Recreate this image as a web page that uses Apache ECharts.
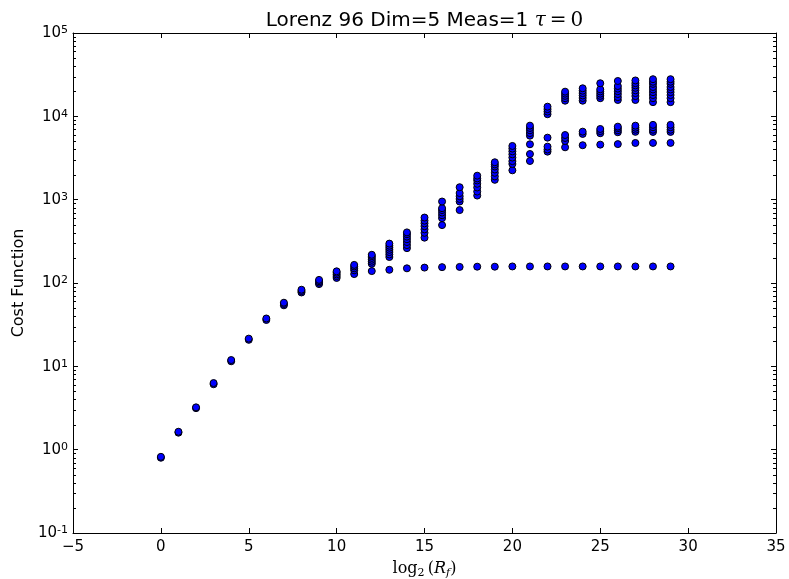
<!DOCTYPE html>
<html>
<head>
<meta charset="utf-8">
<script src="https://cdn.jsdelivr.net/npm/echarts@6/dist/echarts.min.js"></script>
<style>
  html, body { margin: 0; padding: 0; background: #ffffff; }
  #chart { width: 789px; height: 579px; }
</style>
</head>
<body>
<div id="chart"></div>
<script>
// log2 of the forcing ratio R_f, one column of runs per exponent
const rfExponents = [0, 1, 2, 3, 4, 5, 6, 7, 8, 9, 10, 11, 12, 13, 14,
                     15, 16, 17, 18, 19, 20, 21, 22, 23, 24, 25, 26, 27, 28, 29];

// cost function values reached at each exponent (same order as rfExponents)
const costColumns = [
  [0.80, 0.82],
  [1.60, 1.64],
  [3.15, 3.22],
  [6.1, 6.3],
  [11.5, 11.9],
  [20.8, 21.5],
  [36, 37.5],
  [54, 56, 58],
  [77, 80, 83],
  [97, 101, 105, 109],
  [115, 121, 127, 133, 138],
  [128, 142, 150, 158, 165],
  [139, 170, 180, 190, 200, 210, 218],
  [144, 205, 220, 235, 250, 265, 280, 297],
  [150, 262, 285, 310, 335, 360, 385, 405],
  [153, 350, 400, 440, 480, 520, 560, 610],
  [155, 495, 600, 650, 700, 750, 790, 950],
  [156, 750, 950, 1020, 1100, 1200, 1410],
  [157, 1120, 1250, 1400, 1550, 1700, 1800, 1940],
  [157, 1730, 1900, 2100, 2300, 2500, 2650, 2810],
  [158, 2250, 2680, 2900, 3200, 3500, 3800, 4100, 4410],
  [158, 2910, 3530, 4620, 5860, 6300, 6800, 7250, 7730],
  [158, 3770, 4000, 4330, 5550, 10600, 11400, 12200, 13060],
  [158, 4250, 5060, 5500, 5970, 15400, 16500, 17600, 18700, 19770],
  [158, 4500, 6150, 6550, 15400, 16600, 17800, 19000, 20300, 21700],
  [158, 4575, 6270, 6650, 7050, 16500, 17600, 18700, 19900, 21100, 24950],
  [158, 4640, 6440, 6800, 7200, 7520, 15700, 17000, 18500, 20000, 21500, 23100, 26550],
  [158, 4790, 6510, 6900, 7300, 7730, 15700, 17500, 19000, 20500, 22000, 23500, 25000, 26950],
  [158, 4800, 6500, 6900, 7400, 7900, 14800, 16500, 18000, 19500, 21000, 22500, 24500, 26000, 27900],
  [158, 4800, 6500, 6900, 7400, 7900, 14800, 16500, 18000, 19500, 21000, 22500, 24500, 26000, 27900]
];

// axis ranges and ticks
const xRange = [-5, 35];
const xTickStep = 5;
const yRange = [0.1, 100000];
const yMinorMultipliers = [2, 3, 4, 5, 6, 7, 8, 9];

const sansFont = 'DejaVu Sans';
const mathFont = 'DejaVu Serif';

// flatten columns into [x, cost] pairs for the scatter series
const scatterPoints = [];
rfExponents.forEach((x, i) => {
  costColumns[i].forEach(v => scatterPoints.push([x, v]));
});

// minor tick values (2..9 per decade) for the log axis
const minorTickPoints = [];
for (let d = Math.log10(yRange[0]); d < Math.log10(yRange[1]); d++) {
  yMinorMultipliers.forEach(m => minorTickPoints.push([xRange[0], m * Math.pow(10, d)]));
}

const tickLine = { color: '#000000', width: 1 };

const xAxisBase = {
  type: 'value',
  min: xRange[0],
  max: xRange[1],
  interval: xTickStep,
  axisLine: { show: true, onZero: false, lineStyle: tickLine },
  axisTick: { show: true, inside: true, length: 5, lineStyle: tickLine },
  splitLine: { show: false }
};

const yAxisBase = {
  type: 'log',
  logBase: 10,
  min: yRange[0],
  max: yRange[1],
  splitNumber: 6,
  axisLine: { show: true, onZero: false, lineStyle: tickLine },
  axisTick: { show: true, inside: true, length: 5, lineStyle: tickLine },
  minorTick: { show: false },
  splitLine: { show: false }
};

const chart = echarts.init(document.getElementById('chart'), null, { renderer: 'canvas' });

chart.setOption({
  animation: false,
  backgroundColor: '#ffffff',
  grid: { left: 73, right: 13, top: 33, bottom: 46, containLabel: false, outerBoundsMode: 'none' },
  graphic: [{
    type: 'text',
    x: 424.5,
    y: 21,
    style: {
      text: '{t|Lorenz 96 Dim=5 Meas=1 }{m|τ}{r|\u2009=\u20090}',
      align: 'center',
      verticalAlign: 'middle',
      fill: '#000000',
      rich: {
        t: { fontFamily: sansFont, fontSize: 20, fill: '#000000' },
        m: { fontFamily: mathFont, fontStyle: 'italic', fontSize: 20, fill: '#000000' },
        r: { fontFamily: mathFont, fontSize: 20, fill: '#000000' }
      }
    }
  }],
  xAxis: [
    Object.assign({}, xAxisBase, {
      position: 'bottom',
      axisLabel: {
        show: true,
        margin: 7,
        fontFamily: sansFont,
        fontSize: 15,
        color: '#000000',
        formatter: v => (v < 0 ? '\u2212' + Math.abs(v) : String(v))
      },
      name: '{n|log}{s|2}{n|\u2009(}{i|R}{si|f}{n|)}',
      nameLocation: 'middle',
      nameGap: 22,
      nameTextStyle: {
        rich: {
          n: { fontFamily: mathFont, fontSize: 16, lineHeight: 18, verticalAlign: 'top', color: '#000000' },
          i: { fontFamily: mathFont, fontStyle: 'italic', fontSize: 16, lineHeight: 18, verticalAlign: 'top', color: '#000000' },
          s: { fontFamily: mathFont, fontSize: 11, lineHeight: 12, padding: [8, 0, 0, 0], verticalAlign: 'bottom', color: '#000000' },
          si: { fontFamily: mathFont, fontStyle: 'italic', fontSize: 11, lineHeight: 12, padding: [8, 0, 0, 0], verticalAlign: 'bottom', color: '#000000' }
        }
      }
    }),
    Object.assign({}, xAxisBase, {
      position: 'top',
      axisLabel: { show: false }
    })
  ],
  yAxis: [
    Object.assign({}, yAxisBase, {
      position: 'left',
      axisLabel: {
        show: true,
        margin: 5,
        formatter: v => '{b|10}{e|' + String(Math.round(Math.log10(v))) + '}',
        rich: {
          b: { fontFamily: sansFont, fontSize: 15, lineHeight: 16, padding: [4, 0, 0, 0], verticalAlign: 'bottom', color: '#000000' },
          e: { fontFamily: sansFont, fontSize: 11, lineHeight: 11, verticalAlign: 'top', color: '#000000' }
        }
      },
      name: 'Cost Function',
      nameLocation: 'middle',
      nameGap: 45,
      nameRotate: 90,
      nameTextStyle: { fontFamily: sansFont, fontSize: 16, color: '#000000' }
    }),
    Object.assign({}, yAxisBase, {
      position: 'right',
      axisLabel: { show: false }
    })
  ],
  series: [
    {
      // minor ticks of the log axis, drawn on both frame sides
      type: 'custom',
      xAxisIndex: 0,
      yAxisIndex: 0,
      silent: true,
      clip: false,
      data: minorTickPoints,
      renderItem: (params, api) => {
        const left = api.coord([xRange[0], api.value(1)]);
        const right = api.coord([xRange[1], api.value(1)]);
        const y = Math.round(left[1]) + 0.5;
        return {
          type: 'group',
          children: [
            { type: 'line', shape: { x1: left[0], y1: y, x2: left[0] + 3, y2: y }, style: { stroke: '#000000', lineWidth: 1 } },
            { type: 'line', shape: { x1: right[0] - 3, y1: y, x2: right[0], y2: y }, style: { stroke: '#000000', lineWidth: 1 } }
          ]
        };
      },
      z: 3
    },
    {
      type: 'scatter',
      xAxisIndex: 0,
      yAxisIndex: 0,
      data: scatterPoints,
      symbol: 'circle',
      symbolSize: 7,
      itemStyle: { color: '#0000ff', borderColor: '#000000', borderWidth: 1, opacity: 1 },
      z: 4
    }
  ]
});
</script>
</body>
</html>
